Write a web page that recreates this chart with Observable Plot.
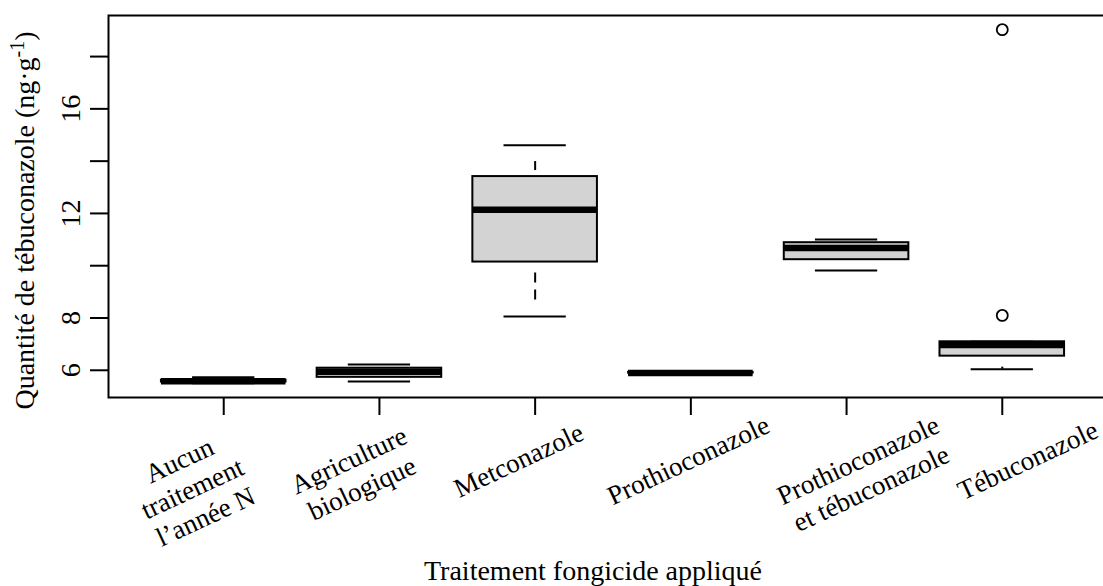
<!DOCTYPE html>
<html>
<head>
<meta charset="utf-8">
<script src="https://cdn.jsdelivr.net/npm/d3@7"></script>
<script src="https://cdn.jsdelivr.net/npm/@observablehq/plot@0.6"></script>
<style>
  html, body { margin: 0; padding: 0; background: #fff; overflow: hidden; }
  #chart svg { overflow: hidden; display: block; }
</style>
</head>
<body>
<div id="chart"></div>
<script>
// ---- data ----
const categories = [
  "Aucun\ntraitement\nl’année N",
  "Agriculture\nbiologique",
  "Metconazole",
  "Prothioconazole",
  "Prothioconazole\net tébuconazole",
  "Tébuconazole"
];
const lowerWhisker = [5.50, 5.57, 8.06, 5.87, 9.82, 6.04];
const q1           = [5.55, 5.73, 10.14, 5.89, 10.23, 6.54];
const median       = [5.58, 5.94, 12.14, 5.90, 10.68, 6.97];
const q3           = [5.62, 6.08, 13.41, 5.92, 10.88, 7.09];
const upperWhisker = [5.73, 6.22, 14.61, 5.94, 11.00, 7.09];
const outlierGroup = [6, 6];
const outlierValue = [8.10, 19.03];
const yTicks = [6, 8, 10, 12, 14, 16, 18];
const yTickLabels = [6, 8, 12, 16];
const xTitle = "Traitement fongicide appliqué";
const yTitle = "Quantité de tébuconazole (ng·g-1)";

// ---- derived tables ----
const pos = categories.map((_, i) => i + 1);
const boxes = categories.map((c, i) => ({
  pos: pos[i], lw: lowerWhisker[i], q1: q1[i], med: median[i], q3: q3[i], uw: upperWhisker[i]
}));
const outliers = outlierValue.map((v, i) => ({pos: outlierGroup[i], v}));
const allVals = [...lowerWhisker, ...upperWhisker, ...outlierValue];
const lo = d3.min(allVals), hi = d3.max(allVals), pad = (hi - lo) * 0.04;
const xPad = categories.length * 0.04;

const boxHalf = 0.4, stapleHalf = 0.2;
const FS = 28, FSX = 27;

const marks = [
  Plot.rect(boxes, {
    x1: d => d.pos - boxHalf, x2: d => d.pos + boxHalf, y1: "q1", y2: "q3",
    fill: "#d3d3d3", stroke: "black", strokeWidth: 2
  }),
  Plot.ruleY(boxes, {
    y: "med", x1: d => d.pos - boxHalf, x2: d => d.pos + boxHalf,
    stroke: "black", strokeWidth: 6.5
  }),
  Plot.ruleX(boxes, {
    x: "pos", y1: "q1", y2: "lw", stroke: "black", strokeWidth: 2,
    strokeDasharray: "10 7 10 27", strokeDashoffset: 43
  }),
  Plot.ruleX(boxes, {
    x: "pos", y1: "q3", y2: "uw", stroke: "black", strokeWidth: 2,
    strokeDasharray: "9 45", strokeDashoffset: 48
  }),
  Plot.ruleY(boxes, {
    y: "lw", x1: d => d.pos - stapleHalf, x2: d => d.pos + stapleHalf,
    stroke: "black", strokeWidth: 2
  }),
  Plot.ruleY(boxes, {
    y: "uw", x1: d => d.pos - stapleHalf, x2: d => d.pos + stapleHalf,
    stroke: "black", strokeWidth: 2
  }),
  Plot.dot(outliers, {
    x: "pos", y: "v", r: 5.5, stroke: "black", strokeWidth: 1.8, fill: "none"
  }),
  Plot.frame({stroke: "black", strokeWidth: 2}),
  Plot.axisY({ticks: yTicks, tickSize: 18, tickFormat: () => "", strokeWidth: 2, label: null}),
  Plot.axisX({ticks: pos, tickSize: 18, tickFormat: () => "", strokeWidth: 2, label: null}),
  Plot.text(yTickLabels, {
    y: d => d, text: d => String(d), frameAnchor: "left", dx: -37,
    rotate: -90, textAnchor: "middle", lineAnchor: "middle", fontSize: FS, fill: "black"
  }),
  ...categories.map((c, i) => Plot.text([c], {
    x: () => pos[i], text: d => d, frameAnchor: "bottom",
    dx: -50 + 14 * i, dy: 51, rotate: -25,
    textAnchor: "middle", lineAnchor: "top", lineHeight: 1.15,
    fontSize: FSX, fill: "black"
  })),
  Plot.text([xTitle], {
    text: d => d, frameAnchor: "bottom", dx: -20, dy: 174,
    textAnchor: "middle", lineAnchor: "middle", fontSize: FS, fill: "black"
  }),
  Plot.text([yTitle], {
    text: d => d, frameAnchor: "left", dx: -83, dy: 14, rotate: -90,
    textAnchor: "middle", lineAnchor: "middle", fontSize: FS, fill: "black"
  })
];

const chart = Plot.plot({
  width: 1103,
  height: 586,
  marginLeft: 108,
  marginRight: -14,
  marginTop: 15,
  marginBottom: 189,
  style: {fontFamily: "'Liberation Serif', 'Times New Roman', serif", fontSize: FS + "px", background: "white", color: "black"},
  x: {domain: [0.5 - xPad, categories.length + 0.5 + xPad], axis: null},
  y: {domain: [lo - pad, hi + pad], axis: null},
  marks
});

// superscript for the unit in the y title
chart.querySelectorAll("text").forEach(t => {
  if (t.textContent === yTitle) {
    const NS = "http://www.w3.org/2000/svg";
    t.textContent = "";
    t.appendChild(document.createTextNode("Quantité de tébuconazole (ng·g"));
    const sup = document.createElementNS(NS, "tspan");
    sup.setAttribute("dy", "-10");
    sup.setAttribute("font-size", "20");
    sup.textContent = "-1";
    t.appendChild(sup);
    const close = document.createElementNS(NS, "tspan");
    close.setAttribute("dy", "10");
    close.textContent = ")";
    t.appendChild(close);
  }
});

document.getElementById("chart").appendChild(chart);
</script>
</body>
</html>
